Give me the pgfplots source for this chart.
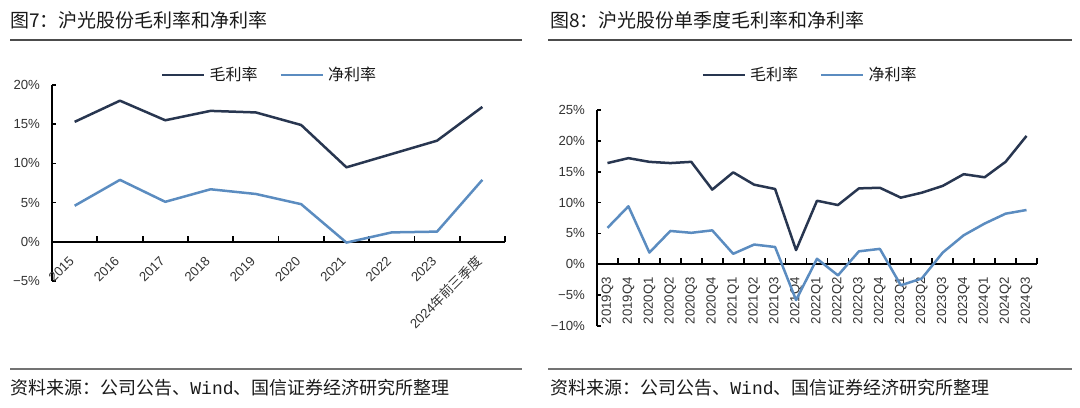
\documentclass[border=0pt]{standalone}
\usepackage{pgfplots}
\pgfplotsset{compat=1.18}
\usepackage{fontspec}
\setmainfont{Liberation Sans}
\newfontfamily\cjk{Noto Sans CJK SC}
\newfontfamily\mono{Liberation Mono}

\definecolor{gross}{HTML}{283650}
\definecolor{net}{HTML}{5B8CC0}
\definecolor{ink}{HTML}{1A1A1A}
\definecolor{tickc}{HTML}{333333}

\pgfplotsset{
  panel/.style={
    scale only axis, anchor=south west, clip=false,
    axis x line=middle, axis y line=left,
    axis line style={-, black, line width=0.9pt},
    hide obscured x ticks=false, hide obscured y ticks=false,
    tick align=inside,
    major tick length=2pt, minor tick length=3pt,
    major x tick style={draw=none},
    minor x tick style={black, line width=0.9pt},
    ytick style={black, line width=0.8pt},
    tick label style={font=\fontsize{6.6}{7}\selectfont, text=tickc},
    yticklabel style={xshift=-2.5pt},
    legend columns=2,
    legend style={draw=none, fill=none, at={(0.5,1)}, anchor=center,
      font=\cjk\fontsize{8}{9}\selectfont, text=ink,
      /tikz/every even column/.append style={column sep=9pt}},
    legend image code/.code={\draw[##1] (0pt,0pt) -- (21pt,0pt);},
    every axis plot/.append style={line width=1.25pt, line join=round, mark=none},
  }
}

\begin{document}
\begin{tikzpicture}[x=0.5pt, y=-0.5pt]
\useasboundingbox (0,0) rectangle (1080,407);

% titles, rules and sources
\node[anchor=west, inner sep=0, text=ink, font=\cjk\fontsize{9.5}{10}\selectfont] at (10,20) {图7：沪光股份毛利率和净利率};
\node[anchor=west, inner sep=0, text=ink, font=\cjk\fontsize{9.5}{10}\selectfont] at (550,20) {图8：沪光股份单季度毛利率和净利率};
\draw[line width=0.8pt, color=black!70] (10,40) -- (522,40);
\draw[line width=0.8pt, color=black!70] (548,40) -- (1072,40);
\draw[line width=0.7pt, color=black!55] (10,369) -- (522,369);
\draw[line width=0.7pt, color=black!55] (548,369) -- (1072,369);
\node[anchor=west, inner sep=0, text=ink, font=\cjk\fontsize{9}{10}\selectfont] at (10,388) {资料来源：公司公告、{\mono Wind}、国信证券经济研究所整理};
\node[anchor=west, inner sep=0, text=ink, font=\cjk\fontsize{9}{10}\selectfont] at (550,388) {资料来源：公司公告、{\mono Wind}、国信证券经济研究所整理};

% annual margins
\begin{axis}[panel, at={(26pt,-140.5pt)}, width=226.5pt, height=98pt,
  xmin=-0.5, xmax=9.5, ymin=-5, ymax=20,
  xtick={0,...,9}, minor xtick={-0.5,0.5,...,9.5},
  xticklabels={2015,2016,2017,2018,2019,2020,2021,2022,2023,{2024\cjk 年前三季度}},
  xticklabel style={xshift=1pt, yshift=-6pt, rotate=45, anchor=east},
  ytick={-5,0,5,10,15,20},
  yticklabels={−5\%,0\%,5\%,10\%,15\%,20\%},
  legend style={yshift=5pt, xshift=-4pt},
]
\addplot[gross] coordinates {(0,15.3) (1,18.0) (2,15.5) (3,16.7) (4,16.5) (5,14.9) (6,9.5) (7,11.2) (8,12.9) (9,17.2)};
\addplot[net] coordinates {(0,4.6) (1,7.9) (2,5.1) (3,6.7) (4,6.1) (5,4.8) (6,-0.1) (7,1.2) (8,1.3) (9,7.9)};
\legend{毛利率,净利率}
\end{axis}

% quarterly margins
\begin{axis}[panel, at={(298.5pt,-163pt)}, width=220pt, height=108pt,
  xmin=-0.5, xmax=20.5, ymin=-10, ymax=25,
  xtick={0,...,20}, minor xtick={-0.5,0.5,...,20.5},
  xticklabels={2019Q3,2019Q4,2020Q1,2020Q2,2020Q3,2020Q4,2021Q1,2021Q2,2021Q3,2021Q4,2022Q1,2022Q2,2022Q3,2022Q4,2023Q1,2023Q2,2023Q3,2023Q4,2024Q1,2024Q2,2024Q3},
  xticklabel style={yshift=-3pt, rotate=90, anchor=east},
  ytick={-10,-5,0,5,10,15,20,25},
  yticklabels={−10\%,−5\%,0\%,5\%,10\%,15\%,20\%,25\%},
  legend style={yshift=17.5pt, xshift=-3pt},
]
\addplot[gross] coordinates {(0,16.4) (1,17.2) (2,16.6) (3,16.4) (4,16.6) (5,12.1) (6,14.9) (7,12.9) (8,12.2) (9,2.3) (10,10.3) (11,9.6) (12,12.3) (13,12.4) (14,10.8) (15,11.6) (16,12.7) (17,14.6) (18,14.1) (19,16.6) (20,20.8)};
\addplot[net] coordinates {(0,5.9) (1,9.4) (2,1.9) (3,5.4) (4,5.1) (5,5.5) (6,1.7) (7,3.2) (8,2.8) (9,-5.8) (10,0.9) (11,-1.8) (12,2.1) (13,2.5) (14,-3.4) (15,-2.3) (16,1.9) (17,4.7) (18,6.6) (19,8.2) (20,8.8)};
\legend{毛利率,净利率}
\end{axis}
\end{tikzpicture}
\end{document}
